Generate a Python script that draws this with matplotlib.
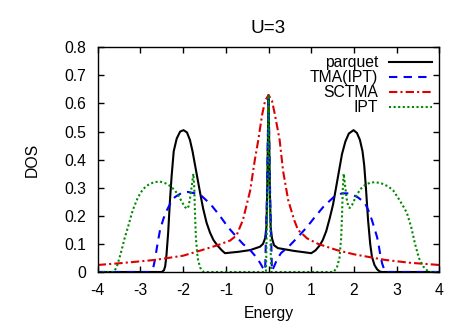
import matplotlib
matplotlib.use("Agg")
import matplotlib.pyplot as plt

plt.rcParams['font.family'] = ['Liberation Sans', 'DejaVu Sans']
plt.rcParams['font.size'] = 11.3
plt.rcParams['axes.unicode_minus'] = False

# values
parquet_x = [-4, -2.5, -2.45, -2.42, -2.39, -2.35, -2.31, -2.27, -2.22, -2.15, -2.07, -1.99,
             -1.91, -1.84, -1.78, -1.72, -1.66, -1.6, -1.53, -1.45, -1.37, -1.29, -1.2,
             -1.1, -1.02, -0.7, -0.43, -0.2, -0.13, -0.08, -0.05, -0.03, 0,
             0.03, 0.05, 0.08, 0.13, 0.22, 0.6, 1.0, 1.1, 1.2, 1.27, 1.35, 1.43, 1.51, 1.58,
             1.65, 1.72, 1.8, 1.88, 1.99, 2.07, 2.14, 2.2, 2.24, 2.28, 2.33, 2.38, 2.42,
             2.48, 2.54, 2.6, 2.65, 4]
parquet_y = [0, 0, 0.006, 0.02, 0.06, 0.14, 0.25, 0.34, 0.43, 0.475, 0.5, 0.505,
             0.497, 0.47, 0.43, 0.38, 0.33, 0.28, 0.225, 0.175, 0.14, 0.114, 0.095,
             0.078, 0.067, 0.072, 0.078, 0.09, 0.1, 0.12, 0.16, 0.3, 0.63,
             0.3, 0.16, 0.12, 0.095, 0.085, 0.075, 0.067, 0.077, 0.095, 0.114, 0.145, 0.19, 0.24, 0.3,
             0.36, 0.42, 0.465, 0.493, 0.505, 0.495, 0.47, 0.43, 0.38, 0.3, 0.185, 0.1, 0.055,
             0.025, 0.01, 0.002, 0, 0]

tma_x = [-4, -2.77, -2.7, -2.66, -2.6, -2.54, -2.46, -2.38, -2.28, -2.19, -2.05, -1.89,
         -1.72, -1.56, -1.35, -1.14, -0.95, -0.75, -0.6, -0.43, -0.3, -0.2, -0.13, -0.08,
         -0.04, 0, 0.04, 0.08, 0.13, 0.2, 0.29, 0.5, 0.69, 0.9, 1.08, 1.3, 1.55, 1.72, 1.9,
         2.1, 2.26, 2.35, 2.42, 2.49, 2.54, 2.58, 2.61, 2.66, 2.73, 4]
tma_y = [0, 0, 0.015, 0.043, 0.1, 0.15, 0.19, 0.22, 0.25, 0.267, 0.28, 0.285,
         0.28, 0.27, 0.24, 0.2, 0.16, 0.125, 0.1, 0.078, 0.055, 0.033, 0.014, 0.005,
         0.25, 0.63, 0.25, 0.005, 0.02, 0.045, 0.067, 0.095, 0.125, 0.16, 0.195, 0.235, 0.27, 0.28, 0.28,
         0.265, 0.245, 0.215, 0.185, 0.15, 0.125, 0.095, 0.067, 0.03, 0, 0]

sctma_x = [-4, -3.5, -3, -2.66, -2, -1.56, -1.2, -0.9, -0.75, -0.6, -0.43, -0.32, -0.24,
           -0.15, -0.08, 0, 0.08, 0.15, 0.26, 0.34, 0.46, 0.6, 0.69, 0.9, 1.16, 1.6, 2,
           2.73, 3.3, 4]
sctma_y = [0.025, 0.031, 0.038, 0.043, 0.058, 0.078, 0.095, 0.112, 0.13, 0.185, 0.29, 0.40, 0.47,
           0.56, 0.61, 0.63, 0.61, 0.56, 0.47, 0.36, 0.256, 0.185, 0.15, 0.12, 0.1, 0.078, 0.063,
           0.043, 0.033, 0.025]

ipt_x = [-4, -3.62, -3.55, -3.5, -3.44, -3.37, -3.29, -3.18, -3.06, -2.94, -2.82, -2.68,
         -2.54, -2.4, -2.29, -2.19, -2.1, -2.03, -1.96, -1.91, -1.87, -1.83, -1.79, -1.76,
         -1.74, -1.72, -1.7, -1.66, -1.6, -1.52, -0.06, -0.03, 0, 0.03, 0.06, 1.52, 1.6,
         1.66, 1.7, 1.72, 1.74, 1.76, 1.79, 1.83, 1.87, 1.9, 1.96, 2.05, 2.15, 2.26, 2.38,
         2.5, 2.65, 2.8, 2.92, 3.05, 3.15, 3.24, 3.34, 3.43, 3.52, 3.62, 3.75, 4]
ipt_y = [0, 0, 0.02, 0.045, 0.078, 0.12, 0.16, 0.22, 0.265, 0.295, 0.31, 0.32,
         0.322, 0.315, 0.305, 0.29, 0.27, 0.25, 0.232, 0.225, 0.235, 0.27, 0.315, 0.35,
         0.3, 0.2, 0.12, 0.05, 0.015, 0, 0, 0.25, 0.63, 0.25, 0, 0, 0.015,
         0.05, 0.12, 0.2, 0.3, 0.35, 0.31, 0.26, 0.232, 0.228, 0.24, 0.27, 0.295, 0.31, 0.318,
         0.32, 0.315, 0.305, 0.29, 0.26, 0.235, 0.21, 0.16, 0.1, 0.05, 0.02, 0, 0]

x_ticks = [-4, -3, -2, -1, 0, 1, 2, 3, 4]
y_ticks = [0, 0.1, 0.2, 0.3, 0.4, 0.5, 0.6, 0.7, 0.8]
y_labels = ['0', '0.1', '0.2', '0.3', '0.4', '0.5', '0.6', '0.7', '0.8']

fig = plt.figure(figsize=(4.63, 3.24), dpi=100)
ax = fig.add_axes([0.211, 0.1605, 0.738, 0.6935])

ax.plot(parquet_x, parquet_y, color='black', lw=1.5, label='parquet')
ax.plot(tma_x, tma_y, color='#0000ff', lw=1.5, dashes=(4, 3), label='TMA(IPT)')
ax.plot(sctma_x, sctma_y, color='#dd0000', lw=1.5, dashes=(4, 1.5, 1, 1.5), label='SCTMA')
ax.plot(ipt_x, ipt_y, color='#008800', lw=1.5, dashes=(1, 1.2), label='IPT')

ax.set_xlim(-4, 4)
ax.set_ylim(0, 0.8)
ax.set_xticks(x_ticks)
ax.set_xticklabels([str(t) for t in x_ticks])
ax.set_yticks(y_ticks)
ax.set_yticklabels(y_labels)
ax.tick_params(direction='in', length=4, width=1, top=True, right=True, pad=8)
for s in ax.spines.values():
    s.set_linewidth(1)

ax.set_title('U=3', pad=10.5)
ax.set_xlabel('Energy', labelpad=6)
ax.set_ylabel('DOS', labelpad=18)

ax.legend(loc='upper right', frameon=False, markerfirst=False, handlelength=2.7,
          handletextpad=0.7, labelspacing=0.0, borderaxespad=0.2, borderpad=0.3)

fig.savefig('out.png', dpi=100)
